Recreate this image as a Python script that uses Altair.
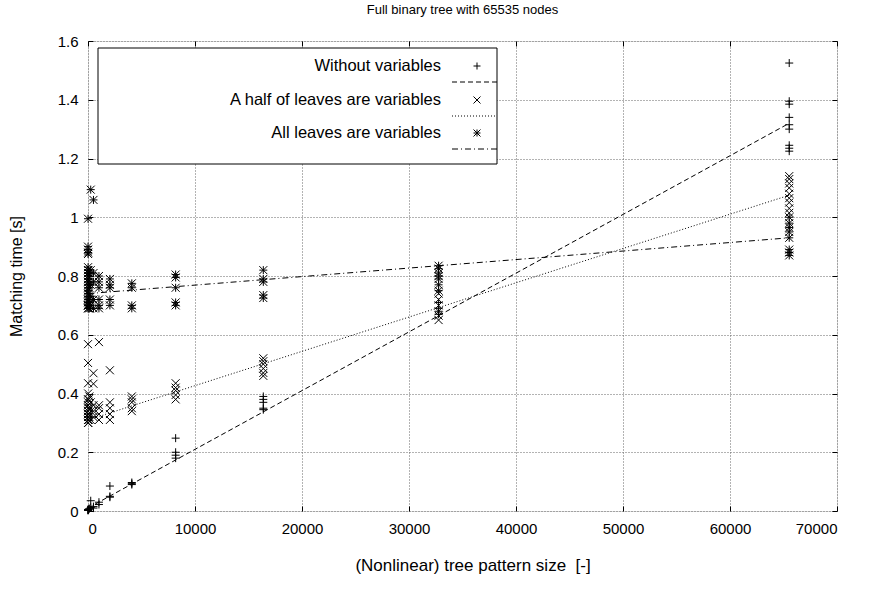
import altair as alt
import pandas as pd

FONT = "Liberation Sans"
SERIES = ["Without variables", "A half of leaves are variables", "All leaves are variables"]

# tree pattern sizes with their measured matching times [s]
without_sizes = [1, 3, 7, 15, 31, 63, 127, 255, 511, 1023, 2047, 4095, 8191, 16383, 32767, 65535]
without_times = [
    [0.003], [0.004], [0.002], [0.005], [0.004], [0.006], [0.008],
    [0.035, 0.012], [0.015, 0.010], [0.030, 0.022],
    [0.085, 0.050, 0.047], [0.097, 0.093, 0.090],
    [0.248, 0.200, 0.190, 0.180],
    [0.390, 0.380, 0.370, 0.350, 0.345],
    [0.710, 0.690, 0.680, 0.670],
    [1.525, 1.395, 1.385, 1.340, 1.315, 1.300, 1.245, 1.235, 1.225],
]

half_sizes = [1, 3, 7, 15, 31, 63, 127, 255, 511, 1023, 2047, 4095, 8191, 16383, 32767, 65535]
half_times = [
    [0.568, 0.33, 0.31, 0.36], [0.504, 0.32, 0.35, 0.30], [0.435, 0.31, 0.34, 0.38],
    [0.40, 0.34, 0.32, 0.37], [0.36, 0.33, 0.30], [0.33, 0.38, 0.31],
    [0.35, 0.32, 0.39], [0.31, 0.37, 0.34], [0.469, 0.433, 0.34, 0.32, 0.36],
    [0.575, 0.36, 0.33, 0.31, 0.35], [0.479, 0.37, 0.35, 0.33, 0.31],
    [0.39, 0.38, 0.37, 0.35, 0.34], [0.435, 0.42, 0.41, 0.395, 0.38],
    [0.52, 0.51, 0.50, 0.485, 0.47, 0.46],
    [0.74, 0.72, 0.70, 0.68, 0.665, 0.65],
    [1.14, 1.13, 1.115, 1.10, 1.08, 1.065, 1.05, 1.03, 1.015],
]

all_sizes = [1, 3, 7, 15, 31, 63, 127, 255, 511, 1023, 2047, 4095, 8191, 16383, 32767, 65535]
all_times = [
    [0.995, 0.90, 0.82, 0.78, 0.74, 0.70], [0.89, 0.81, 0.76, 0.72, 0.69],
    [0.875, 0.83, 0.79, 0.71, 0.70], [0.88, 0.80, 0.75, 0.73, 0.69],
    [0.82, 0.77, 0.72, 0.70], [0.81, 0.78, 0.74, 0.70], [0.80, 0.76, 0.71, 0.69],
    [1.094, 0.82, 0.77, 0.73, 0.70], [1.059, 0.81, 0.78, 0.72, 0.69],
    [0.80, 0.78, 0.76, 0.72, 0.70, 0.69], [0.79, 0.77, 0.76, 0.72, 0.70],
    [0.775, 0.76, 0.70, 0.69], [0.805, 0.795, 0.76, 0.71, 0.70],
    [0.82, 0.79, 0.78, 0.735, 0.725],
    [0.835, 0.825, 0.81, 0.80, 0.79, 0.77, 0.75],
    [1.00, 0.98, 0.965, 0.95, 0.93, 0.89, 0.88, 0.87],
]

# fitted straight lines (end points)
fit_sizes = [0, 65535]
without_fit = [0.01, 1.32]
half_fit = [0.31, 1.075]
all_fit = [0.74, 0.93]

x_ticks = [0, 10000, 20000, 30000, 40000, 50000, 60000, 70000]
y_ticks = [0, 0.2, 0.4, 0.6, 0.8, 1, 1.2, 1.4, 1.6]

PLUS = "M-1,0L1,0M0,-1L0,1"
CROSS = "M-1,-1L1,1M-1,1L1,-1"
STAR = "M-1,0L1,0M0,-1L0,1M-1,-1L1,1M-1,1L1,-1"
SHAPES = [PLUS, CROSS, STAR]
DASHES = [[5, 3], [1, 2], [6, 3, 1, 3]]

rows = []
for name, sizes, times in zip(SERIES, [without_sizes, half_sizes, all_sizes],
                              [without_times, half_times, all_times]):
    for x, ys in zip(sizes, times):
        for y in ys:
            rows.append({"series": name, "size": x, "time": y})
points_df = pd.DataFrame(rows)

fit_rows = []
for name, vals in zip(SERIES, [without_fit, half_fit, all_fit]):
    for x, y in zip(fit_sizes, vals):
        fit_rows.append({"series": name, "size": x, "time": y})
fit_df = pd.DataFrame(fit_rows)

W, H = 749, 470
xscale = alt.Scale(domain=[0, 70000], nice=False, zero=False)
yscale = alt.Scale(domain=[0, 1.6], nice=False, zero=False)

points = alt.Chart(points_df).mark_point(
    filled=False, color="black", strokeWidth=1, size=64, opacity=1
).encode(
    x=alt.X("size:Q", scale=xscale, axis=alt.Axis(
        values=x_ticks, format="d", grid=True, gridDash=[1, 2], gridColor="#666",
        domain=False, tickSize=5, tickColor="black", offset=-5, labelPadding=10,
        labelFont=FONT, labelFontSize=15, labelColor="black",
        title="(Nonlinear) tree pattern size \u00a0[-]", titleFont=FONT, titleFontSize=17,
        titleFontWeight="normal", titleColor="black", titleX=W / 2 + 10, titleY=59,
        titleBaseline="middle")),
    y=alt.Y("time:Q", scale=yscale, axis=alt.Axis(
        values=y_ticks, format="~g", grid=True, gridDash=[1, 2], gridColor="#666",
        domain=False, tickSize=5, tickColor="black", offset=-5, labelPadding=10,
        labelFont=FONT, labelFontSize=15, labelColor="black",
        title="Matching time [s]", titleFont=FONT, titleFontSize=16,
        titleFontWeight="normal", titleColor="black", titleX=-77, titleY=H / 2,
        titleAngle=270, titleAlign="center", titleBaseline="middle")),
    shape=alt.Shape("series:N", scale=alt.Scale(domain=SERIES, range=SHAPES), legend=None),
)

lines = alt.Chart(fit_df).mark_line(color="black", strokeWidth=1).encode(
    x=alt.X("size:Q", scale=xscale, axis=alt.Axis(
        orient="top", values=x_ticks, labels=False, grid=False, domain=False,
        tickSize=5, tickColor="black", offset=-5, title=None)),
    y=alt.Y("time:Q", scale=yscale, axis=alt.Axis(
        orient="right", values=y_ticks, labels=False, grid=False, domain=False,
        tickSize=5, tickColor="black", offset=-5, title=None)),
    strokeDash=alt.StrokeDash("series:N", scale=alt.Scale(domain=SERIES, range=DASHES), legend=None),
    detail="series:N",
)

legend_box = alt.Chart(pd.DataFrame({"k": [0]})).mark_rect(
    fill="white", stroke="black", strokeWidth=1
).encode(x=alt.value(10), x2=alt.value(409), y=alt.value(7), y2=alt.value(123))

legend_layers = [legend_box]
text_y = [25, 59, 92]
line_y = [41, 75, 108]
for name, shp, dash, ty, ly in zip(SERIES, SHAPES, DASHES, text_y, line_y):
    d = pd.DataFrame({"label": [name]})
    legend_layers.append(alt.Chart(d).mark_text(
        align="right", baseline="middle", font=FONT, fontSize=16.5, color="black"
    ).encode(text="label:N", x=alt.value(353), y=alt.value(ty)))
    legend_layers.append(alt.Chart(d).mark_point(
        filled=False, color="black", strokeWidth=1, size=49, opacity=1
    ).encode(shape=alt.value(shp), x=alt.value(389), y=alt.value(ty)))
    legend_layers.append(alt.Chart(d).mark_rule(
        color="black", strokeWidth=1, strokeDash=dash
    ).encode(x=alt.value(364), x2=alt.value(409), y=alt.value(ly)))

chart = alt.layer(points, lines, *legend_layers).resolve_axis(
    x="independent", y="independent"
).properties(
    width=W, height=H,
    title=alt.TitleParams("Full binary tree with 65535 nodes", font=FONT, fontSize=13,
                          fontWeight="normal", color="black", offset=17, anchor="middle"),
    padding={"left": 88, "top": 41, "right": 870 - 88 - W, "bottom": 603 - 41 - H},
    autosize=alt.AutoSizeParams(type="none"),
).configure_view(stroke="black", strokeWidth=1).configure(background="white")

chart.save("out.html", embed_options={"renderer": "svg", "actions": False})
